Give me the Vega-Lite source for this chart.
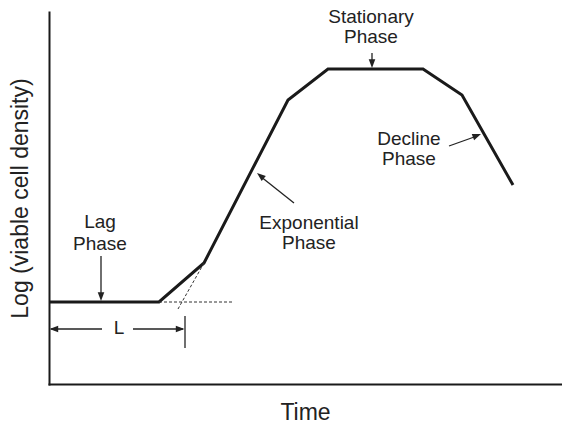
{
  "$schema": "https://vega.github.io/schema/vega-lite/v6.json",
  "width": 512,
  "height": 372,
  "autosize": "none",
  "padding": {"left": 49, "top": 12, "right": 1, "bottom": 41},
  "background": "white",
  "config": {
    "view": {"stroke": null},
    "axis": {
      "domain": true,
      "domainColor": "#1a1a1a",
      "domainWidth": 2,
      "domainCap": "square",
      "ticks": false,
      "labels": false,
      "grid": false,
      "titleFont": "Liberation Sans",
      "titleFontSize": 23,
      "titleFontWeight": "normal",
      "titleColor": "#222222"
    }
  },
  "datasets": {
    "curve": [
      {"x": 0, "y": 82},
      {"x": 110, "y": 82},
      {"x": 155, "y": 121},
      {"x": 239, "y": 284},
      {"x": 279, "y": 315},
      {"x": 374, "y": 315},
      {"x": 413, "y": 289},
      {"x": 464, "y": 199}
    ],
    "dashed": [
      {"x": 110, "y": 82, "x2": 184, "y2": 82},
      {"x": 155, "y": 121, "x2": 129, "y2": 75}
    ],
    "arrowLines": [
      {"x": 52, "y": 128, "x2": 52, "y2": 88},
      {"x": 323, "y": 331, "x2": 323, "y2": 320},
      {"x": 245, "y": 181, "x2": 211, "y2": 208},
      {"x": 400, "y": 238, "x2": 428, "y2": 248},
      {"x": 2, "y": 55, "x2": 53, "y2": 55},
      {"x": 84, "y": 55, "x2": 134, "y2": 55},
      {"x": 136, "y": 68, "x2": 136, "y2": 36}
    ],
    "arrowHeads": [
      {"x": 52, "y": 83, "angle": 180},
      {"x": 323, "y": 316, "angle": 180},
      {"x": 208, "y": 211, "angle": 309},
      {"x": 432, "y": 250, "angle": 69},
      {"x": 0.5, "y": 55, "angle": 270},
      {"x": 135.5, "y": 55, "angle": 90}
    ],
    "labels": [
      {"x": 322, "y": 361, "label": "Stationary"},
      {"x": 322, "y": 341, "label": "Phase"},
      {"x": 260, "y": 155, "label": "Exponential"},
      {"x": 260, "y": 135, "label": "Phase"},
      {"x": 360, "y": 239, "label": "Decline"},
      {"x": 360, "y": 219, "label": "Phase"},
      {"x": 51, "y": 156, "label": "Lag"},
      {"x": 51, "y": 134, "label": "Phase"},
      {"x": 70, "y": 50, "label": "L"}
    ]
  },
  "encoding": {
    "x": {
      "field": "x",
      "type": "quantitative",
      "scale": {"domain": [0, 512], "nice": false, "zero": false},
      "axis": {"title": "Time", "titlePadding": 17}
    },
    "y": {
      "field": "y",
      "type": "quantitative",
      "scale": {"domain": [0, 372], "nice": false, "zero": false},
      "axis": {"title": "Log (viable cell density)", "titlePadding": 17}
    }
  },
  "layer": [
    {
      "data": {"name": "curve"},
      "mark": {"type": "line", "color": "#1a1a1a", "strokeWidth": 3, "strokeJoin": "miter"}
    },
    {
      "data": {"name": "dashed"},
      "mark": {"type": "rule", "color": "#333333", "strokeWidth": 1, "strokeDash": [3, 2]},
      "encoding": {"x2": {"field": "x2"}, "y2": {"field": "y2"}}
    },
    {
      "data": {"name": "arrowLines"},
      "mark": {"type": "rule", "color": "#222222", "strokeWidth": 1.3},
      "encoding": {"x2": {"field": "x2"}, "y2": {"field": "y2"}}
    },
    {
      "data": {"name": "arrowHeads"},
      "mark": {"type": "point", "shape": "M0,0L0.38,1L-0.38,1Z", "filled": true, "color": "#222222", "opacity": 1, "size": 300},
      "encoding": {"angle": {"field": "angle", "type": "quantitative", "scale": null}}
    },
    {
      "data": {"name": "labels"},
      "mark": {"type": "text", "font": "Liberation Sans", "fontSize": 19, "color": "#222222", "align": "center", "baseline": "alphabetic"},
      "encoding": {"text": {"field": "label"}}
    }
  ]
}
